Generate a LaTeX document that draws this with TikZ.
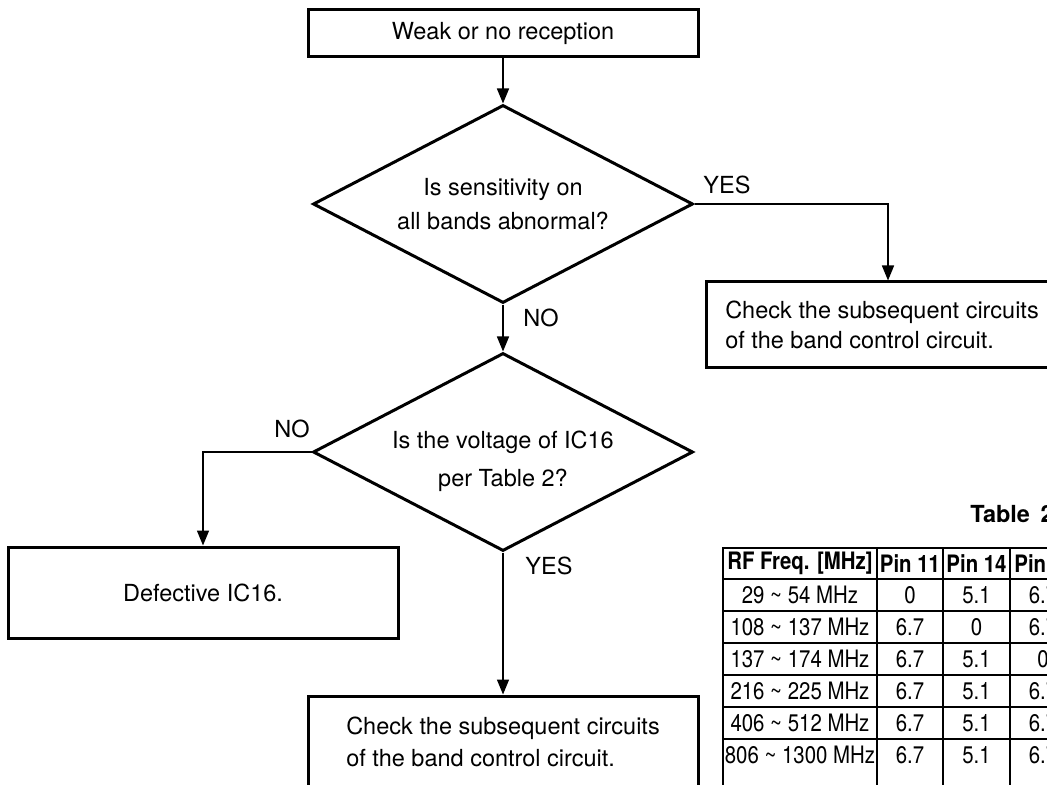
\documentclass[tikz,border=0pt]{standalone}
\usepackage{fontspec}
\setmainfont{TeX Gyre Heros}
\newfontfamily\narrowfont[FakeStretch=0.85]{TeX Gyre Heros}
\usetikzlibrary{arrows.meta,positioning,shapes.geometric}
\tikzset{
flow/.style={-{Triangle[length=7.5pt,width=6pt]},line width=0.75pt},
procbox/.style={draw,line width=1.5pt,minimum width=195pt,align=left,inner sep=0pt},
decision/.style={draw,diamond,aspect=2,line width=1.5pt,minimum width=190pt,minimum height=99pt,inner sep=0pt,align=center},
answer/.style={anchor=base west,inner sep=0pt},
cell/.style={font=\narrowfont\fontsize{12}{14}\selectfont,inner sep=0pt},
headcell/.style={font=\narrowfont\bfseries\fontsize{12}{14}\selectfont,inner sep=0pt},
tableframe/.style={line width=1.2pt},
tablerule/.style={line width=0.6pt},
}
\tikzstyle{every node}=[font=\fontsize{11.75}{16}\selectfont]

\begin{document}
\begin{tikzpicture}[x=0.5pt,y=-0.5pt]

        \useasboundingbox (0,0) rectangle (1047,785);
        \clip (0,0) rectangle (1047,785);

        % Flow chart
        \node[procbox,minimum height=23.5pt,align=center] (start) at (503,33.5) {Weak or no reception};
        \node[decision] (bands) at (503,204) {Is sensitivity on\\[1pt]all bands abnormal?};
        \node[procbox,minimum width=176pt,minimum height=43pt] (bandctrlA) at (882,325)
        {Check the subsequent circuits\\[-1pt]of the band control circuit.};
        \node[decision] (voltage) at (503,452) {};
        \node[align=center] (voltagetext) at (503,461) {Is the voltage of IC16\\[3pt]per Table 2?};
        \node[procbox,minimum height=45.5pt,align=center] (defective) at (203,592.5) {Defective IC16.};
        \node[procbox,minimum height=46pt] (bandctrlB) at (503,742)
        {Check the subsequent circuits\\of the band control circuit.};

        % Answers
        \node[answer] (yesA) at (703,194) {YES};
        \node[answer] (noA) at (523,327) {NO};
        \node[answer,anchor=base east] (noB) at (310,437) {NO};
        \node[answer] (yesB) at (525,574) {YES};

        % Connectors
        \draw[flow] (start) -- (bands);
        \draw[flow] (bands.east) -| ([xshift=3pt]bandctrlA.north);
        \draw[flow] (bands) -- (voltage);
        \draw[flow] (voltage.west) -| (defective.north);
        \draw[flow] (voltage) -- (bandctrlB);

        % Table 2
        \node[anchor=base west,inner sep=0pt,font=\bfseries\fontsize{11.75}{14}\selectfont] (tabtitle) at (970,522) {Table\hspace{2pt} 2};
        \draw[tableframe] (723,790) |- (1060,548);
        \foreach \y in {579,611,...,739}
        \draw[tablerule] (723,\y) -- (1060,\y);
        \foreach \x in {877,943,1010}
        \draw[tablerule] (\x,548) -- (\x,790);
        \foreach \txt/\x [count=\i] in {RF Freq. [MHz]/800,Pin 11/910,Pin 14/976.5}
        \node[headcell] (head\i) at (\x,563.5) {\txt};
        \node[headcell,anchor=west] (head4) at (1014,563.5) {Pin};
        \foreach \f/\a/\b/\c [count=\r] in {
                29 \textasciitilde{} 54 MHz/0/5.1/6.7,
                108 \textasciitilde{} 137 MHz/6.7/0/6.7,
                137 \textasciitilde{} 174 MHz/6.7/5.1/0,
                216 \textasciitilde{} 225 MHz/6.7/5.1/6.7,
                406 \textasciitilde{} 512 MHz/6.7/5.1/6.7,
                806 \textasciitilde{} 1300 MHz/6.7/5.1/6.7}
        {
        \node[cell] (freq\r) at (800,{563+32*\r}) {\f};
        \node[cell] (pinA\r) at (910,{563+32*\r}) {\a};
        \node[cell] (pinB\r) at (976.5,{563+32*\r}) {\b};
        \node[cell] (pinC\r) at (1043,{563+32*\r}) {\c};
        }

\end{tikzpicture}
\end{document}
